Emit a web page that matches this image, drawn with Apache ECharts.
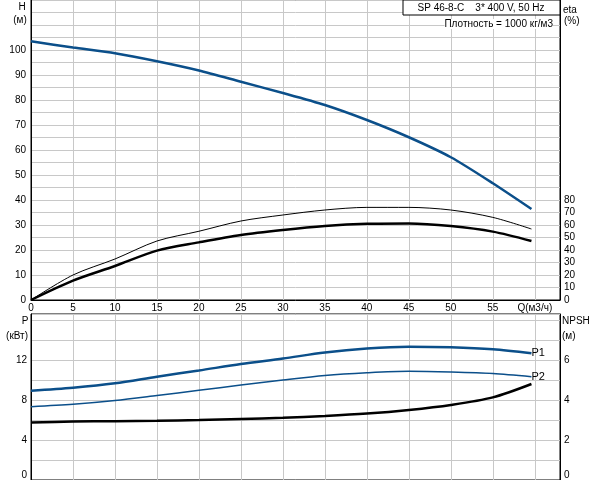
<!DOCTYPE html>
<html>
<head>
<meta charset="utf-8">
<script src="https://cdn.jsdelivr.net/npm/echarts@6/dist/echarts.min.js"></script>
<style>
html,body{margin:0;padding:0;background:#fff;}
#c{width:592px;height:480px;}
</style>
</head>
<body>
<div id="c"></div>
<script>
// ---- data ----
const Q = [0, 5, 10, 15, 20, 25, 30, 35, 40, 45, 50, 55, 59.6];
const H = [103.5, 101, 98.7, 95.5, 91.8, 87.3, 82.8, 78.0, 72.0, 65.1, 57.1, 46.7, 36.4];
const ETA_THIN = [0, 20, 32.8, 47.2, 55, 63.2, 68, 72, 74.1, 74.1, 72, 66.1, 56.8];
const ETA_THICK = [0, 15.5, 27.2, 39.5, 46.1, 52, 56, 59.2, 61, 61.3, 59.2, 54.7, 47.2];
const P1 = [8.93, 9.23, 9.67, 10.33, 10.95, 11.6, 12.15, 12.75, 13.15, 13.33, 13.27, 13.07, 12.67];
const P2 = [7.33, 7.57, 7.95, 8.45, 8.97, 9.5, 10.0, 10.45, 10.72, 10.87, 10.8, 10.65, 10.33];
const NPSH = [2.87, 2.92, 2.94, 2.96, 3.0, 3.05, 3.11, 3.2, 3.32, 3.5, 3.75, 4.13, 4.8];

const Q_TICKS = [0, 5, 10, 15, 20, 25, 30, 35, 40, 45, 50, 55];
const Q_LABEL = 'Q(м3/ч)';
const H_TICKS = [0, 10, 20, 30, 40, 50, 60, 70, 80, 90, 100];
const ETA_TICKS = [0, 10, 20, 30, 40, 50, 60, 70, 80];
const P_TICKS = [0, 4, 8, 12];
const NPSH_TICKS = [0, 2, 4, 6];
const TITLE = 'SP 46-8-C    3* 400 V, 50 Hz';
const DENSITY = 'Плотность = 1000 кг/м3';

const pairs = (ys) => Q.map((q, i) => [q, ys[i]]);

const FONT = "'Liberation Sans', Arial, sans-serif";
const BLUE = '#0b4f8a';
const GRIDC = '#c8c8c8';
const lab = (extra) => Object.assign({fontFamily: FONT, fontSize: 10, color: '#000'}, extra);

const chart = echarts.init(document.getElementById('c'), null, {renderer: 'canvas'});

const zeroRich = {z: {fontFamily: FONT, fontSize: 10, color: '#000', padding: [0, 0, 10, 0]}};

chart.setOption({
  backgroundColor: '#fff',
  animation: false,
  grid: [
    {left: 31, right: 32, top: 0, height: 300, show: true, borderColor: '#000', borderWidth: 1, backgroundColor: 'transparent'},
    {left: 31, right: 32, top: 314, height: 166, show: true, borderColor: '#000', borderWidth: 1, backgroundColor: 'transparent'}
  ],
  xAxis: [
    {type: 'value', gridIndex: 0, min: 0, max: 63, interval: 5,
     axisLine: {show: true, lineStyle: {color: '#000'}}, axisTick: {show: false},
     splitLine: {show: true, lineStyle: {color: GRIDC, width: 1}},
     axisLabel: lab({margin: 3, showMaxLabel: false,
       formatter: v => v === 60 ? Q_LABEL : (Q_TICKS.indexOf(v) >= 0 ? String(v) : '')})},
    {type: 'value', gridIndex: 1, min: 0, max: 63, interval: 5,
     axisLine: {show: true, lineStyle: {color: '#000'}}, axisTick: {show: false},
     splitLine: {show: true, lineStyle: {color: GRIDC, width: 1}},
     axisLabel: {show: false}}
  ],
  yAxis: [
    {type: 'value', gridIndex: 0, min: 0, max: 120, interval: 5,
     axisLine: {show: true, lineStyle: {color: '#000'}}, axisTick: {show: false},
     splitLine: {show: true, lineStyle: {color: GRIDC, width: 1}},
     axisLabel: lab({margin: 5, showMaxLabel: false,
       formatter: v => H_TICKS.indexOf(v) >= 0 ? String(v) : ''})},
    {type: 'value', gridIndex: 0, position: 'right', min: 0, max: 240, interval: 10,
     axisLine: {show: true, lineStyle: {color: '#000'}}, axisTick: {show: false},
     splitLine: {show: false},
     axisLabel: lab({margin: 4, showMaxLabel: false,
       formatter: v => ETA_TICKS.indexOf(v) >= 0 ? String(v) : ''})},
    {type: 'value', gridIndex: 1, min: 0, max: 16.6, interval: 2,
     axisLine: {show: true, lineStyle: {color: '#000'}}, axisTick: {show: false},
     splitLine: {show: true, lineStyle: {color: GRIDC, width: 1}},
     axisLabel: lab({margin: 4, showMaxLabel: false, rich: zeroRich,
       formatter: v => v === 0 ? '{z|0}' : (P_TICKS.indexOf(v) >= 0 ? String(v) : '')})},
    {type: 'value', gridIndex: 1, position: 'right', min: 0, max: 8.3, interval: 1,
     axisLine: {show: true, lineStyle: {color: '#000'}}, axisTick: {show: false},
     splitLine: {show: false},
     axisLabel: lab({margin: 4, showMaxLabel: false, rich: zeroRich,
       formatter: v => v === 0 ? '{z|0}' : (NPSH_TICKS.indexOf(v) >= 0 ? String(v) : '')})}
  ],
  series: [
    {type: 'line', xAxisIndex: 0, yAxisIndex: 0, data: pairs(H), smooth: 0.25, symbol: 'none',
     lineStyle: {color: BLUE, width: 2.5}},
    {type: 'line', xAxisIndex: 0, yAxisIndex: 1, data: pairs(ETA_THIN), smooth: 0.3, symbol: 'none',
     lineStyle: {color: '#000', width: 1}},
    {type: 'line', xAxisIndex: 0, yAxisIndex: 1, data: pairs(ETA_THICK), smooth: 0.3, symbol: 'none',
     lineStyle: {color: '#000', width: 2.5}},
    {type: 'line', xAxisIndex: 1, yAxisIndex: 2, data: pairs(P1), smooth: 0.3, symbol: 'none',
     lineStyle: {color: BLUE, width: 2.5},
     endLabel: {show: true, formatter: 'P1', distance: 0, fontFamily: FONT, fontSize: 11, color: '#000'}},
    {type: 'line', xAxisIndex: 1, yAxisIndex: 2, data: pairs(P2), smooth: 0.3, symbol: 'none',
     lineStyle: {color: BLUE, width: 1.5},
     endLabel: {show: true, formatter: 'P2', distance: 0, fontFamily: FONT, fontSize: 11, color: '#000'}},
    {type: 'line', xAxisIndex: 1, yAxisIndex: 3, data: pairs(NPSH), smooth: 0.3, symbol: 'none',
     lineStyle: {color: '#000', width: 2.5}}
  ],
  graphic: [
    {type: 'rect', shape: {x: 403, y: 0, width: 157, height: 15}, style: {fill: '#fff', stroke: '#000', lineWidth: 1}, z: 10},
    {type: 'text', x: 481, y: 8, z: 11, style: {text: TITLE, font: '10px ' + FONT, fill: '#000', align: 'center', verticalAlign: 'middle'}},
    {type: 'text', x: 553, y: 24, z: 11, style: {text: DENSITY, font: '10px ' + FONT, fill: '#000', align: 'right', verticalAlign: 'middle', backgroundColor: '#fff'}},
    {type: 'text', x: 22, y: 7, style: {text: 'H', font: '10px ' + FONT, fill: '#000', align: 'center', verticalAlign: 'middle'}},
    {type: 'text', x: 20, y: 20, style: {text: '(м)', font: '10px ' + FONT, fill: '#000', align: 'center', verticalAlign: 'middle'}},
    {type: 'text', x: 563, y: 10, style: {text: 'eta', font: '10px ' + FONT, fill: '#000', align: 'left', verticalAlign: 'middle'}},
    {type: 'text', x: 564, y: 21, style: {text: '(%)', font: '10px ' + FONT, fill: '#000', align: 'left', verticalAlign: 'middle'}},
    {type: 'text', x: 25, y: 321, style: {text: 'P', font: '10px ' + FONT, fill: '#000', align: 'center', verticalAlign: 'middle'}},
    {type: 'text', x: 28, y: 336, style: {text: '(кВт)', font: '10px ' + FONT, fill: '#000', align: 'right', verticalAlign: 'middle'}},
    {type: 'text', x: 562, y: 321, style: {text: 'NPSH', font: '10px ' + FONT, fill: '#000', align: 'left', verticalAlign: 'middle'}},
    {type: 'text', x: 562, y: 336, style: {text: '(м)', font: '10px ' + FONT, fill: '#000', align: 'left', verticalAlign: 'middle'}}
  ]
});
</script>
</body>
</html>
